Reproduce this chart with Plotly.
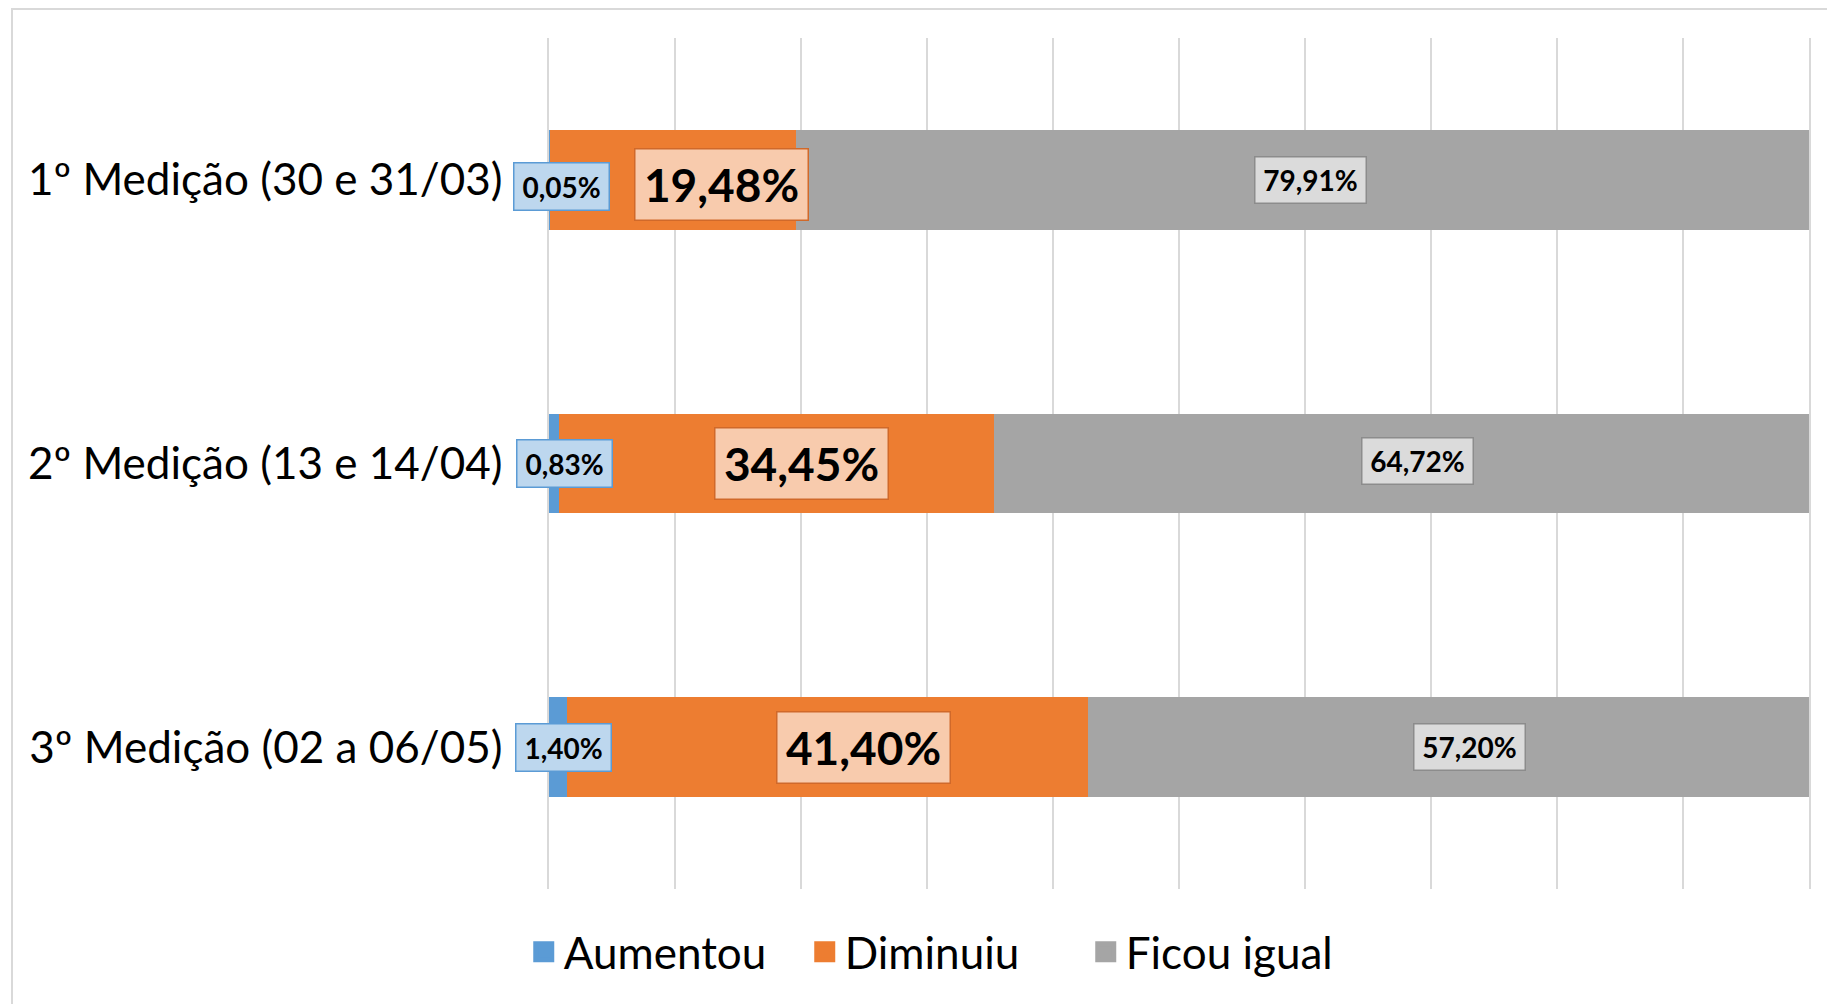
import numpy as np
import plotly.graph_objects as go

# ---- data ----
categories = ["1º Medição (30 e 31/03)", "2º Medição (13 e 14/04)", "3º Medição (02 a 06/05)"]
series_names = ["Aumentou", "Diminuiu", "Ficou igual"]
aumentou = [0.05, 0.83, 1.40]
diminuiu = [19.48, 34.45, 41.40]
ficou_igual = [79.91, 64.72, 57.20]

# ---- styles ----
bar_colors = ["#5B9BD5", "#ED7D31", "#A5A5A5"]
label_bg = ["#BDD7EE", "#F8CBAD", "#DBDBDB"]
label_border = ["#5B9BD5", "#D0692A", "#8C8C8C"]
label_size = [28, 46, 28]
label_box_w = [86, 164, 102]
label_box_h = [38, 62, 37]
# manual nudges of data labels (pixels), per series, per row
label_dx = [[12, 10, 6], [48, 25, 36], [8, 16, 21]]
label_dy = [[-7, 0, 0], [-5, 0, 0], [0, 3, 0]]
FONT = "Lato"

values = [aumentou, diminuiu, ficou_igual]
arr = np.array(values, dtype=float)
totals = arr.sum(axis=0)
norm = arr / totals * 100.0
cum = np.cumsum(norm, axis=0)
centers = cum - norm / 2.0

fig = go.Figure()
for i, name in enumerate(series_names):
    fig.add_trace(go.Bar(
        y=categories, x=values[i], name=name, orientation="h",
        marker=dict(color=bar_colors[i], line=dict(width=0)),
        hoverinfo="skip", showlegend=False, legendgroup=name,
    ))
# legend entries (square swatches)
for i, name in enumerate(series_names):
    fig.add_trace(go.Scatter(
        x=[None], y=[None], mode="markers", name=name, legendgroup=name,
        marker=dict(symbol="square", size=16, color=bar_colors[i],
                    line=dict(width=5, color=bar_colors[i])),
        hoverinfo="skip", showlegend=True,
    ))

annotations = []
for i in range(len(series_names)):
    for j, cat in enumerate(categories):
        txt = f"{values[i][j]:.2f}".replace(".", ",") + "%"
        annotations.append(dict(
            x=float(centers[i][j]), y=cat, xref="x", yref="y",
            text=f"<b>{txt}</b>", showarrow=False,
            xshift=label_dx[i][j], yshift=label_dy[i][j],
            font=dict(family=FONT, size=label_size[i], color="#000000"),
            bgcolor=label_bg[i], bordercolor=label_border[i], borderwidth=1.5,
            borderpad=4, width=label_box_w[i], height=label_box_h[i],
            align="center", valign="middle",
        ))

# page body has an 8px default margin; figure size/margins compensate
FIG_W, FIG_H = 1827, 996
plot_l, plot_r, plot_t, plot_b = 541, 26, 30, 115
pw = FIG_W - plot_l - plot_r
ph = FIG_H - plot_t - plot_b

fig.update_layout(
    width=FIG_W, height=FIG_H,
    margin=dict(l=plot_l, r=plot_r, t=plot_t, b=plot_b, pad=0),
    barmode="stack", barnorm="percent", bargap=0.648,
    paper_bgcolor="white", plot_bgcolor="white",
    font=dict(family=FONT, color="#000000"),
    annotations=annotations,
    legend=dict(
        orientation="h", xref="container", yref="container",
        x=0.513, xanchor="center", y=0.052, yanchor="middle",
        font=dict(family=FONT, size=44, color="#000000"),
        traceorder="normal", entrywidth=236, entrywidthmode="pixels",
    ),
    shapes=[dict(
        type="rect", xref="paper", yref="paper",
        x0=(4 - plot_l) / pw, x1=1.2, y0=-0.3, y1=(ph + plot_t - 1) / ph,
        line=dict(color="#D9D9D9", width=2), fillcolor="rgba(0,0,0,0)", layer="below",
    )],
)
fig.update_xaxes(
    range=[0, 100], dtick=10, showticklabels=False, showgrid=True,
    gridcolor="#D9D9D9", gridwidth=1.5, zeroline=False, showline=False,
    fixedrange=True,
)
fig.update_yaxes(
    autorange="reversed", showgrid=False, zeroline=False,
    showline=True, mirror=True, linecolor="#D9D9D9", linewidth=1.5,
    tickfont=dict(family=FONT, size=44, color="#000000"),
    ticks="", ticklabelstandoff=36,
)

fig.write_html("out.html")
